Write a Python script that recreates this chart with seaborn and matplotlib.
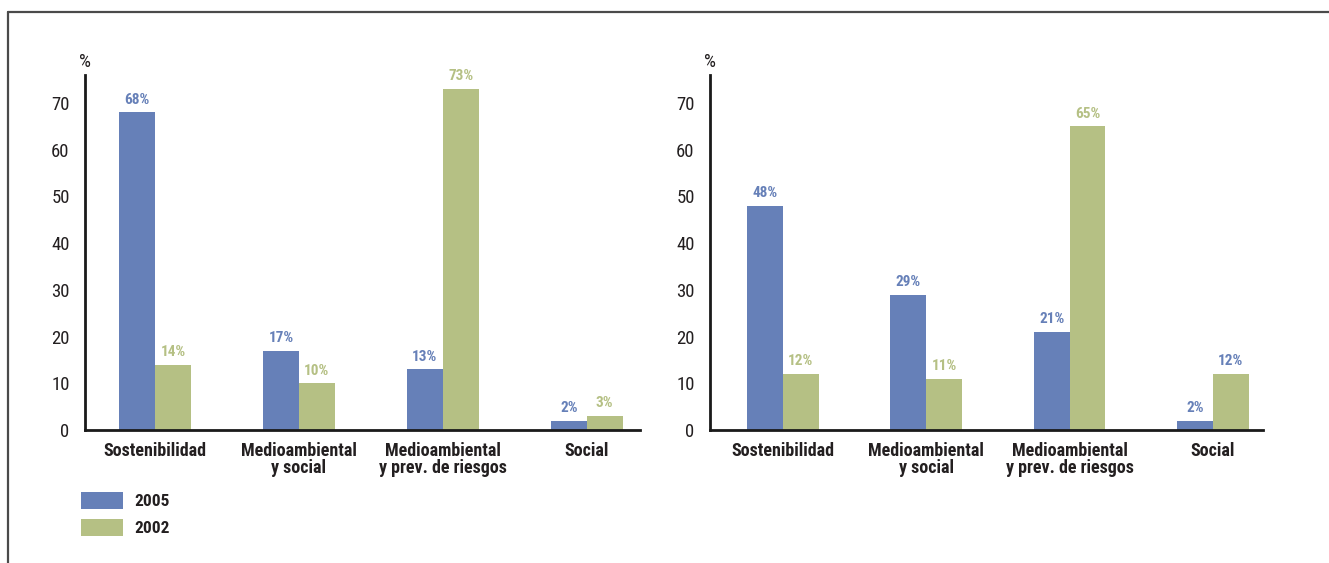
import matplotlib
matplotlib.use("Agg")
import matplotlib.pyplot as plt
from matplotlib.lines import Line2D
from matplotlib.patches import Patch
import seaborn as sns
import pandas as pd

# Category labels (x axis) and the two survey years
categories = ["Sostenibilidad", "Medioambiental\ny social",
              "Medioambiental\ny prev. de riesgos", "Social"]
years = ["2005", "2002"]

# Left panel values (%)
left_2005 = [68, 17, 13, 2]
left_2002 = [14, 10, 73, 3]

# Right panel values (%)
right_2005 = [48, 29, 21, 2]
right_2002 = [12, 11, 65, 12]

y_ticks = [0, 10, 20, 30, 40, 50, 60, 70]

BLUE = "#6680B8"
GREEN = "#B5C084"
TEXT = "#231F20"

W, H = 1329, 563

sns.set_theme(style="white")
plt.rcParams["font.family"] = ["Roboto Condensed", "Archivo Narrow", "DejaVu Sans"]

fig = plt.figure(figsize=(W / 100, H / 100), dpi=100)

# Outer frame: top and left rules
fig.add_artist(Line2D([8 / W, 1.0], [1 - 12 / H, 1 - 12 / H],
                      color="#4a4a4a", lw=1.6, transform=fig.transFigure))
fig.add_artist(Line2D([8 / W, 8 / W], [0.0, 1 - 12 / H],
                      color="#4a4a4a", lw=1.6, transform=fig.transFigure))


def panel(rect, v2005, v2002, label_colors, xlim):
    ax = fig.add_axes(rect)
    df = pd.DataFrame({
        "cat": categories * 2,
        "year": [years[0]] * 4 + [years[1]] * 4,
        "val": list(v2005) + list(v2002),
    })
    sns.barplot(data=df, x="cat", y="val", hue="year", hue_order=years,
                palette=[BLUE, GREEN], width=0.5, saturation=1,
                linewidth=0, ax=ax, legend=False, errorbar=None)
    ax.set_ylim(0, 76)
    ax.set_xlim(*xlim)
    ax.set_yticks(y_ticks)
    ax.set_yticklabels([str(t) for t in y_ticks], fontsize=13.5,
                       color=TEXT, fontweight="normal")
    ax.set_xticks(range(len(categories)))
    ax.set_xticklabels(categories, fontsize=13, fontweight="bold",
                       color=TEXT, linespacing=0.92)
    ax.tick_params(axis="y", length=0, pad=11)
    ax.tick_params(axis="x", length=0, pad=8.5)
    ax.set_xlabel("")
    ax.set_ylabel("")
    for s in ["top", "right"]:
        ax.spines[s].set_visible(False)
    for s in ["left", "bottom"]:
        ax.spines[s].set_color("#1a1a1a")
        ax.spines[s].set_linewidth(2)
    ax.grid(False)

    # Value labels above each bar
    for container, vals, col in zip(ax.containers, [v2005, v2002], label_colors):
        for bar, v, c in zip(container, vals, col):
            ax.text(bar.get_x() + bar.get_width() / 2, v + 1.2, f"{v}%",
                    ha="center", va="bottom", fontsize=11,
                    fontweight="bold", color=c)

    ax.text(0.0, 1.012, "%", transform=ax.transAxes, ha="center",
            va="bottom", fontsize=13.5, color=TEXT, fontweight="normal")
    return ax


ax1 = panel([85 / W, 1 - 430 / H, 555 / W, 355 / H],
            left_2005, left_2002,
            [[BLUE] * 4, [GREEN] * 4], (-0.486, 3.37))
ax2 = panel([710 / W, 1 - 430 / H, 553 / W, 355 / H],
            right_2005, right_2002,
            [[BLUE] * 4, [GREEN, GREEN, GREEN, BLUE]], (-0.509, 3.35))

# Legend
handles = [Patch(facecolor=BLUE, edgecolor="none"),
           Patch(facecolor=GREEN, edgecolor="none")]
leg = fig.legend(handles, years, loc="upper left",
                 bbox_to_anchor=(65 / W, 1 - 476 / H),
                 frameon=False, handlelength=2.45, handleheight=1.15,
                 labelspacing=0.55, handletextpad=0.62,
                 prop={"size": 12.5, "weight": "bold"})
for t in leg.get_texts():
    t.set_color(TEXT)

fig.savefig("out.png", dpi=100)
